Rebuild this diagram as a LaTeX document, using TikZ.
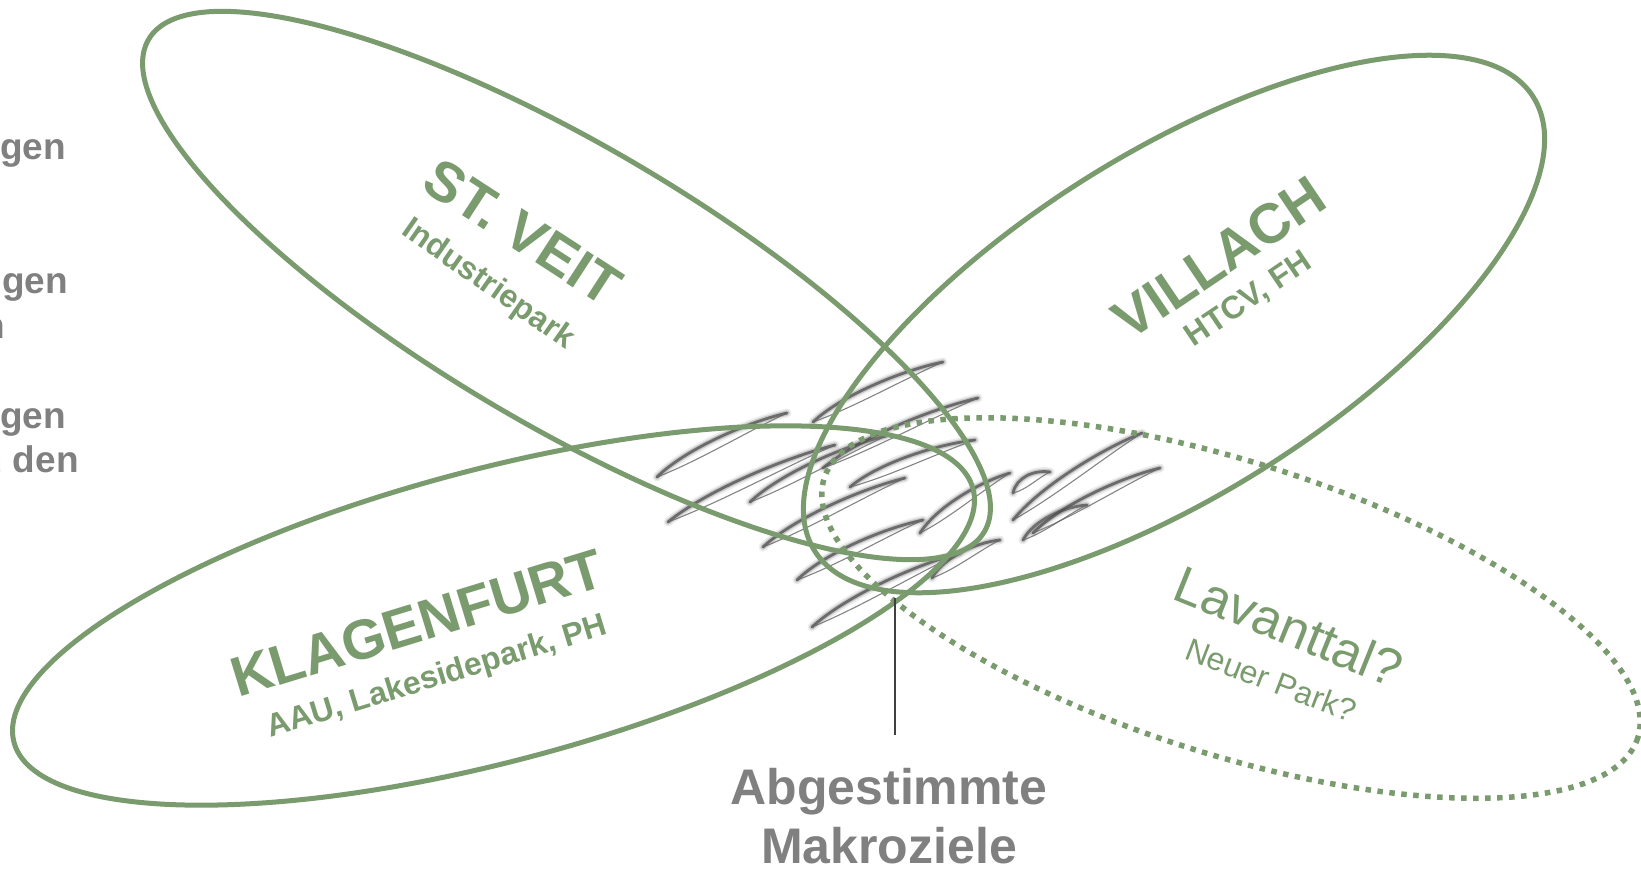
\documentclass[tikz,border=0pt]{standalone}
\usepackage{fontspec}
\setmainfont{Liberation Sans}
\usetikzlibrary{calc}
\definecolor{kgreen}{HTML}{7A9B6E}
\definecolor{kgray}{HTML}{808080}
\definecolor{kline}{HTML}{404040}
\newcommand\scrib[2]{%
  \draw[scribglow] (#1) .. controls ($(#1)!0.25!(#2)!12pt!90:(#2)$) and ($(#1)!0.7!(#2)!10pt!90:(#2)$) .. (#2);
  \draw[scribmid] (#1) .. controls ($(#1)!0.25!(#2)!12pt!90:(#2)$) and ($(#1)!0.7!(#2)!10pt!90:(#2)$) .. (#2);
  \draw[scribdark] (#1) .. controls ($(#1)!0.25!(#2)!12pt!90:(#2)$) and ($(#1)!0.7!(#2)!10pt!90:(#2)$) .. (#2);
  \draw[scribthin] (#1) .. controls ($(#1)!0.3!(#2)!-4pt!90:(#2)$) and ($(#1)!0.7!(#2)!1pt!90:(#2)$) .. (#2);
}
\begin{document}
\begin{tikzpicture}[x=1pt,y=-1pt,
  ell/.style={draw=kgreen, line width=5pt},
  dotell/.style={draw=kgreen, line width=5.5pt, dash pattern=on 5.5pt off 6.5pt},
  lbl/.style={text=kgreen, font=\bfseries\fontsize{56}{60}\selectfont, inner sep=0pt},
  sublbl/.style={text=kgreen, font=\bfseries\fontsize{32}{36}\selectfont, inner sep=0pt},
  lavlbl/.style={text=kgreen, font=\fontsize{52}{58}\selectfont, inner sep=0pt},
  lavsub/.style={text=kgreen, font=\fontsize{32}{36}\selectfont, inner sep=0pt},
  gtext/.style={text=kgray, font=\bfseries\fontsize{50}{58}\selectfont, inner sep=0pt, anchor=base},
  lefttext/.style={text=kgray, font=\bfseries\fontsize{37}{44}\selectfont, inner sep=0pt, anchor=base east},
  scribglow/.style={draw=black!45, line width=9pt, opacity=0.15, line cap=round},
  scribmid/.style={draw=black!55, line width=5.5pt, opacity=0.3, line cap=round},
  scribdark/.style={draw=black!70, line width=2.8pt, opacity=0.75, line cap=round},
  scribthin/.style={draw=black!60, line width=1.1pt, opacity=0.8, line cap=round}]
\useasboundingbox (0,0) rectangle (1641,868);
\fill[white] (0,0) rectangle (1641,868);

% scribble
\scrib{657,477}{787,413}
\scrib{668,522}{835,445}
\scrib{750,502}{886,436}
\scrib{763,547}{905,478}
\scrib{797,580}{923,520}
\scrib{812,627}{960,553}
\scrib{813,422}{943,362}
\scrib{823,468}{978,398}
\scrib{850,487}{975,440}
\scrib{920,533}{1010,473}
\scrib{1013,493}{1050,472}
\scrib{1023,540}{1087,505}
\scrib{1013,520}{1142,433}
\scrib{1033,533}{1160,468}
\scrib{932,578}{1000,540}

% ellipses
\draw[dotell, rotate around={-17.7:(1231,608)}] (1231,608) ellipse [x radius=427, y radius=146];
\draw[ell, rotate around={-30.5:(566.5,285.5)}] (566.5,285.5) ellipse [x radius=485, y radius=140];
\draw[ell, rotate around={32.3:(1174,324)}] (1174,324) ellipse [x radius=425, y radius=170];
\draw[ell, rotate around={14.8:(493.5,615.5)}] (493.5,615.5) ellipse [x radius=496, y radius=146];

% labels
\node[lbl, rotate=-33] (stveit) at (523,232) {ST. VEIT};
\node[sublbl, rotate=-35] (stveitsub) at (488,285) {Industriepark};
\node[lbl, rotate=34] (villach) at (1219,258) {VILLACH};
\node[sublbl, rotate=34] (villachsub) at (1249,300) {HTCV, FH};
\node[lbl, rotate=17] (klu) at (417,623) {KLAGENFURT};
\node[sublbl, rotate=17] (klusub) at (437,678) {AAU, Lakesidepark, PH};
\node[lavlbl, rotate=-22] (lav) at (1289,626) {Lavanttal?};
\node[lavsub, rotate=-21] (lavsub) at (1271,680) {Neuer Park?};

% left cut-off text
\node[lefttext] (l1) at (66,159) {gen};
\node[lefttext] (l2) at (68,293) {ngen};
\node[lefttext] (l3) at (5,338) {n};
\node[lefttext] (l4) at (66,428) {gen};
\node[lefttext] (l5) at (79,472) {u den};

% bottom label and pointer
\node[gtext] (abg) at (889,804) {Abgestimmte};
\node[gtext] (makro) at (889,863) {Makroziele};
\coordinate (meet) at (895,598);
\coordinate (lineend) at (895,735);
\draw[kline, line width=1.2pt] (meet) -- (lineend);
\end{tikzpicture}
\end{document}
